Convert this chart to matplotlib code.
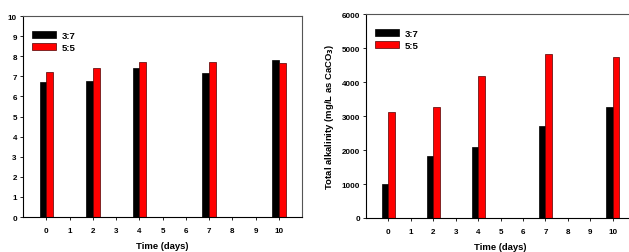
import matplotlib
matplotlib.use("Agg")
import matplotlib.pyplot as plt
import numpy as np

plt.rcParams['font.family'] = ['Liberation Sans', 'DejaVu Sans']

tick_labels = ["0", "1", "2", "3", "4", "5", "6", "7", "8", "9", "10"]
days = [0, 2, 4, 7, 10]
series_names = ["3:7", "5:5"]
ph_37 = [6.72, 6.79, 7.44, 7.16, 7.81]
ph_55 = [7.21, 7.44, 7.70, 7.71, 7.67]
alk_37 = [1010, 1814, 2098, 2706, 3255]
alk_55 = [3127, 3265, 4176, 4824, 4745]

fig = plt.figure(figsize=(6.29, 2.53), dpi=100)
ax1 = fig.add_axes([0.0366, 0.1383, 0.4436, 0.794])
ax2 = fig.add_axes([0.5819, 0.1344, 0.4277, 0.806])

w = 0.29
colors = ["black", "#ff0000"]

def style(ax, ylim, yticks):
    ax.set_xlim(-1, 11)
    ax.set_ylim(*ylim)
    ax.set_xticks(range(len(tick_labels)))
    ax.set_xticklabels(tick_labels)
    ax.set_yticks(yticks)
    for lab in ax.get_xticklabels() + ax.get_yticklabels():
        lab.set_fontweight('bold')
        lab.set_fontsize(5.8)
    ax.tick_params(axis='both', direction='out', length=2.5, width=0.6, pad=2)
    ax.tick_params(axis='x', length=2, pad=5)
    for s in ['top', 'right']:
        ax.spines[s].set_color('#555555')
        ax.spines[s].set_linewidth(0.8)
    for s in ['left', 'bottom']:
        ax.spines[s].set_linewidth(0.8)
    ax.set_xlabel("Time (days)", fontsize=6.8, fontweight='bold', labelpad=5)

for ax, a, b in [(ax1, ph_37, ph_55), (ax2, alk_37, alk_55)]:
    x = np.array(days, dtype=float)
    ax.bar(x - w / 2, a, width=w, color=colors[0], edgecolor='black', linewidth=0.5, label=series_names[0])
    ax.bar(x + w / 2, b, width=w, color=colors[1], edgecolor='#500000', linewidth=0.5, label=series_names[1])

style(ax1, (0, 10), range(0, 11))
style(ax2, (0, 6000), range(0, 6001, 1000))
ax2.set_ylabel("Total alkalinity (mg/L as CaCO$_\\mathbf{3}$)", fontsize=6.8, fontweight='bold', labelpad=4)

for ax in (ax1, ax2):
    ax.legend(loc='upper left', bbox_to_anchor=(0.0, 0.97), frameon=False,
              handlelength=2.6, handleheight=0.7, labelspacing=0.35,
              handletextpad=0.6, borderaxespad=0.5,
              prop={'weight': 'bold', 'size': 6.8})

fig.savefig("out.png", dpi=100)
